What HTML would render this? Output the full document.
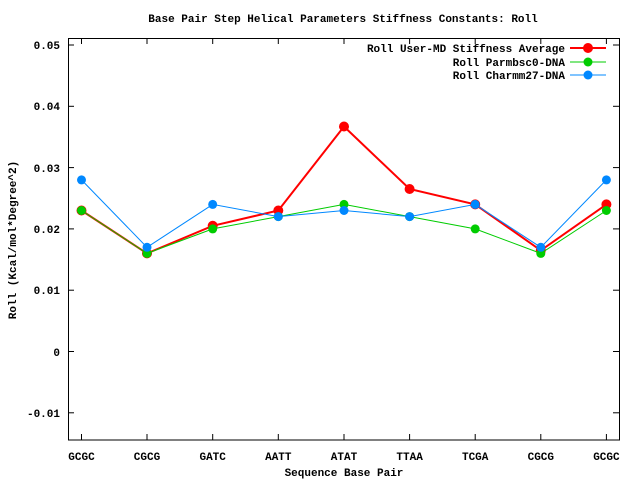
<!DOCTYPE html><html><head><style>body{margin:0;background:#fff}</style></head><body>
<svg width="640" height="480" xmlns="http://www.w3.org/2000/svg" font-family="Liberation Mono, monospace" font-weight="bold" font-size="11">
<rect width="640" height="480" fill="#fff"/>
<text x="343" y="22" text-anchor="middle">Base Pair Step Helical Parameters Stiffness Constants: Roll</text>
<rect x="68.5" y="38.5" width="551" height="401.5" fill="none" stroke="#000"/>
<g stroke="#000">
<line x1="68" y1="45" x2="74" y2="45"/><line x1="613" y1="45" x2="619" y2="45"/>
<line x1="68" y1="106.3" x2="74" y2="106.3"/><line x1="613" y1="106.3" x2="619" y2="106.3"/>
<line x1="68" y1="167.6" x2="74" y2="167.6"/><line x1="613" y1="167.6" x2="619" y2="167.6"/>
<line x1="68" y1="228.9" x2="74" y2="228.9"/><line x1="613" y1="228.9" x2="619" y2="228.9"/>
<line x1="68" y1="290.2" x2="74" y2="290.2"/><line x1="613" y1="290.2" x2="619" y2="290.2"/>
<line x1="68" y1="351.5" x2="74" y2="351.5"/><line x1="613" y1="351.5" x2="619" y2="351.5"/>
<line x1="68" y1="412.8" x2="74" y2="412.8"/><line x1="613" y1="412.8" x2="619" y2="412.8"/>
</g>
<g stroke="#000" id="xt">
<line x1="81.5" y1="440" x2="81.5" y2="434"/><line x1="81.5" y1="38" x2="81.5" y2="44"/>
<line x1="147" y1="440" x2="147" y2="434"/><line x1="147" y1="38" x2="147" y2="44"/>
<line x1="212.7" y1="440" x2="212.7" y2="434"/><line x1="212.7" y1="38" x2="212.7" y2="44"/>
<line x1="278.3" y1="440" x2="278.3" y2="434"/><line x1="278.3" y1="38" x2="278.3" y2="44"/>
<line x1="344" y1="440" x2="344" y2="434"/><line x1="344" y1="38" x2="344" y2="44"/>
<line x1="409.6" y1="440" x2="409.6" y2="434"/><line x1="409.6" y1="38" x2="409.6" y2="44"/>
<line x1="475.2" y1="440" x2="475.2" y2="434"/><line x1="475.2" y1="38" x2="475.2" y2="44"/>
<line x1="540.8" y1="440" x2="540.8" y2="434"/><line x1="540.8" y1="38" x2="540.8" y2="44"/>
<line x1="606.4" y1="440" x2="606.4" y2="434"/><line x1="606.4" y1="38" x2="606.4" y2="44"/>
</g>
<g text-anchor="end">
<text x="60" y="49">0.05</text><text x="60" y="110">0.04</text><text x="60" y="172">0.03</text><text x="60" y="233">0.02</text><text x="60" y="294">0.01</text><text x="60" y="356">0</text><text x="60" y="417">-0.01</text>
</g>
<g text-anchor="middle">
<text x="81.5" y="460">GCGC</text><text x="147" y="460">CGCG</text><text x="212.7" y="460">GATC</text><text x="278.3" y="460">AATT</text><text x="344" y="460">ATAT</text><text x="409.6" y="460">TTAA</text><text x="475.2" y="460">TCGA</text><text x="540.8" y="460">CGCG</text><text x="606.4" y="460">GCGC</text>
<text x="344" y="476">Sequence Base Pair</text>
<text transform="translate(16,240) rotate(-90)">Roll (Kcal/mol*Degree^2)</text>
</g>
<text x="565" y="52" text-anchor="end">Roll User-MD Stiffness Average</text>
<text x="565" y="66" text-anchor="end">Roll Parmbsc0-DNA</text>
<text x="565" y="79" text-anchor="end">Roll Charmm27-DNA</text>
<line x1="570" y1="48" x2="606" y2="48" stroke="#f00" stroke-width="2"/><circle cx="588" cy="48" r="5" fill="#f00"/>
<line x1="570" y1="62" x2="606" y2="62" stroke="#0c0"/><circle cx="588" cy="62" r="4.5" fill="#0c0"/>
<line x1="570" y1="75" x2="606" y2="75" stroke="#08f"/><circle cx="588" cy="75" r="4.5" fill="#08f"/>
<polyline fill="none" stroke="#f00" stroke-width="2" points="81.5,210.5 147,253.4 212.7,225.8 278.3,210.5 344,126.5 409.6,189 475.2,204.4 540.8,250.4 606.4,204.4"/>
<g fill="#f00"><circle cx="81.5" cy="210.5" r="5"/><circle cx="147" cy="253.4" r="5"/><circle cx="212.7" cy="225.8" r="5"/><circle cx="278.3" cy="210.5" r="5"/><circle cx="344" cy="126.5" r="5"/><circle cx="409.6" cy="189" r="5"/><circle cx="475.2" cy="204.4" r="5"/><circle cx="540.8" cy="250.4" r="5"/><circle cx="606.4" cy="204.4" r="5"/></g>
<polyline fill="none" stroke="#0c0" points="81.5,210.5 147,253.4 212.7,228.9 278.3,216.6 344,204.4 409.6,216.6 475.2,228.9 540.8,253.4 606.4,210.5"/>
<g fill="#0c0"><circle cx="81.5" cy="210.5" r="4.5"/><circle cx="147" cy="253.4" r="4.5"/><circle cx="212.7" cy="228.9" r="4.5"/><circle cx="278.3" cy="216.6" r="4.5"/><circle cx="344" cy="204.4" r="4.5"/><circle cx="409.6" cy="216.6" r="4.5"/><circle cx="475.2" cy="228.9" r="4.5"/><circle cx="540.8" cy="253.4" r="4.5"/><circle cx="606.4" cy="210.5" r="4.5"/></g>
<polyline fill="none" stroke="#08f" points="81.5,179.9 147,247.3 212.7,204.4 278.3,216.6 344,210.5 409.6,216.6 475.2,204.4 540.8,247.3 606.4,179.9"/>
<g fill="#08f"><circle cx="81.5" cy="179.9" r="4.5"/><circle cx="147" cy="247.3" r="4.5"/><circle cx="212.7" cy="204.4" r="4.5"/><circle cx="278.3" cy="216.6" r="4.5"/><circle cx="344" cy="210.5" r="4.5"/><circle cx="409.6" cy="216.6" r="4.5"/><circle cx="475.2" cy="204.4" r="4.5"/><circle cx="540.8" cy="247.3" r="4.5"/><circle cx="606.4" cy="179.9" r="4.5"/></g>
</svg>
</body></html>
